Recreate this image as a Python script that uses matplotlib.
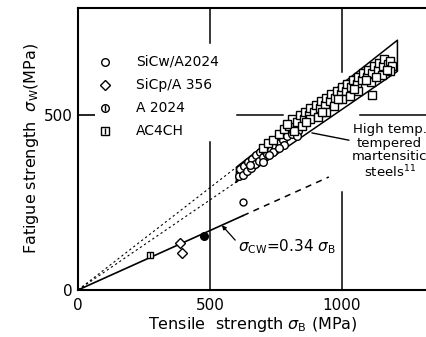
import matplotlib
matplotlib.use("Agg")
import matplotlib.pyplot as plt
import numpy as np

# measured points (MPa)
sicw_x = [625]
sicw_y = [251]
sicp_x = [386, 394]
sicp_y = [134, 106]
a2024_x = [477]
a2024_y = [154]
ac4ch_x = [273]
ac4ch_y = [100]

# steel data inside the band
steel_circ_x = [610, 615, 625, 630, 640, 645, 655, 660, 670, 675, 685, 690, 700, 705,
                715, 720, 730, 735, 745, 750, 760, 765, 775, 780, 790, 800, 810, 820,
                835, 850, 700, 740, 780, 830, 650, 725, 760]
steel_circ_y = [325, 345, 330, 355, 340, 365, 350, 375, 360, 385, 370, 395, 380, 400,
                390, 410, 400, 420, 410, 430, 420, 440, 430, 450, 440, 460, 445, 470,
                455, 475, 365, 395, 415, 440, 358, 385, 405]
steel_sq_x = [700, 720, 740, 760, 780, 800, 810, 830, 840, 855, 860, 875, 880, 895,
              900, 915, 920, 935, 940, 955, 960, 975, 980, 995, 1000, 1015, 1020, 1035,
              1040, 1055, 1060, 1075, 1080, 1095, 1100, 1115, 1120, 1135, 1140, 1155,
              1160, 1175, 1180, 1190, 1060, 1000, 940, 880, 820, 1110, 1150, 1030, 970,
              910, 850, 1180, 1114, 865, 925, 985, 1045, 1090, 1130, 1170, 790]
steel_sq_y = [405, 420, 430, 445, 460, 470, 490, 480, 500, 490, 510, 500, 520, 510,
              530, 520, 540, 530, 550, 540, 560, 550, 570, 560, 580, 570, 590, 580,
              600, 590, 610, 600, 620, 610, 630, 620, 640, 630, 650, 640,
              660, 645, 655, 640, 570, 545, 510, 490, 455, 595, 615, 555, 525,
              495, 470, 625, 557, 480, 510, 545, 575, 600, 610, 630, 475]

band_x = [600, 600, 1210, 1210, 600]
band_y = [309, 351, 714, 625, 309]

ratio = 0.34

fig = plt.figure(figsize=(4.27, 3.37), dpi=100)
ax = fig.add_axes([78 / 427, 47 / 337, 349 / 427, 282 / 337])
ax.set_xlim(0, 1322)
ax.set_ylim(0, 806)

for s in ["left", "bottom", "top"]:
    ax.spines[s].set_linewidth(1.5)
ax.spines["right"].set_visible(False)

ax.set_xticks([0, 500, 1000])
ax.set_yticks([0, 500])
ax.tick_params(axis="x", length=0, labelsize=11, pad=6)
ax.tick_params(axis="y", direction="in", length=12, width=1.2, labelsize=11, pad=4)
ax.set_yticklabels(["0", "500"])

# broken guide lines
k = dict(color="black", lw=1.1)
ax.plot([500, 500], [706, 806], **k)
ax.plot([500, 500], [0, 423], **k)
ax.plot([1000, 1000], [623, 806], **k)
ax.plot([1000, 1000], [0, 280], **k)
ax.plot([602, 777], [500, 500], **k)
ax.plot([1068, 1322], [500, 500], **k)

# band of steels + dotted extensions
ax.plot(band_x, band_y, color="black", lw=1.1)
ax.plot([0, 600], [0, 309], color="black", lw=0.8, dashes=(2, 2.5))
ax.plot([0, 600], [0, 351], color="black", lw=0.8, dashes=(2, 2.5))

# sigma_cw = 0.34 sigma_B
ax.plot([0, 625], [0, ratio * 625], color="black", lw=1.2)
ax.plot([625, 950], [ratio * 625, ratio * 950], color="black", lw=1.1, dashes=(4, 3.5))

mk = dict(mfc="white", mec="black", mew=1.0, ls="none")
ax.plot(steel_circ_x, steel_circ_y, "o", ms=5.5, **mk)
ax.plot(steel_sq_x, steel_sq_y, "s", ms=5.5, **mk)

ax.plot(sicw_x, sicw_y, "o", ms=5, **mk)
ax.plot(sicp_x, sicp_y, "D", ms=5, **mk)
ax.plot(a2024_x, a2024_y, "o", ms=5.5, mfc="black", mec="black", ls="none")
ax.plot(ac4ch_x, ac4ch_y, "s", ms=5, **mk)
ax.plot(ac4ch_x, ac4ch_y, "|", ms=5, color="black", mew=0.9, ls="none")

# legend drawn by hand
leg = [("o", "SiCw/A2024"), ("D", "SiCp/A 356"), ("o|", "A 2024"), ("s|", "AC4CH")]
rows = [0.809, 0.727, 0.645, 0.564]
for (m, lab), yy in zip(leg, rows):
    ax.plot([0.077], [yy], m[0], ms=5.5, transform=ax.transAxes, **mk)
    if len(m) > 1:
        ax.plot([0.077], [yy], m[1], ms=5, color="black", mew=1, transform=ax.transAxes)
    ax.text(0.166, yy, lab, transform=ax.transAxes, fontsize=10, va="center", ha="left")

ax.annotate("High temp.\ntempered\nmartensitic\nsteels$^{11}$", xy=(886, 449), xytext=(1180, 395),
            fontsize=9.5, ha="center", va="center", linespacing=1.05,
            arrowprops=dict(arrowstyle="-", color="black", lw=1, shrinkA=0, shrinkB=0,
                            relpos=(0.05, 0.68)))

ax.annotate(r"$\sigma_\mathregular{CW}$=0.34 $\sigma_\mathregular{B}$", xy=(545, 185), xytext=(606, 123),
            fontsize=11, ha="left", va="center",
            arrowprops=dict(arrowstyle="-|>", color="black", lw=0.9, shrinkA=0, shrinkB=0,
                            mutation_scale=6, relpos=(0, 0.7)))

ax.set_xlabel(r"Tensile  strength $\sigma_\mathregular{B}$ (MPa)", fontsize=11.5, labelpad=1)
ax.set_ylabel(r"Fatigue strength  $\sigma_\mathregular{W}$(MPa)", fontsize=11.5, labelpad=2)

fig.savefig("out.png", dpi=100)
